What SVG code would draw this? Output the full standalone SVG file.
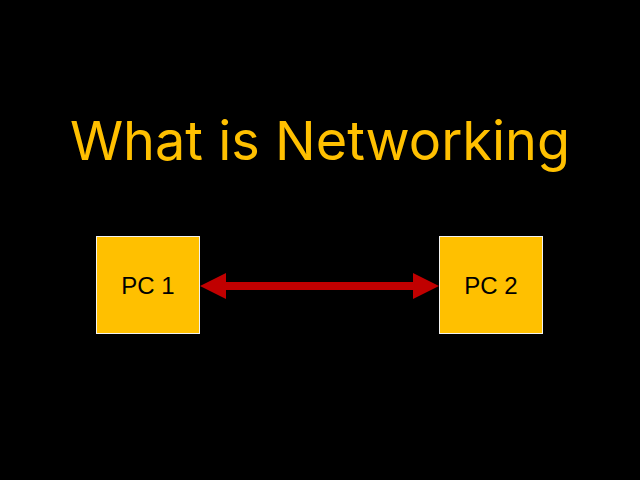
<svg xmlns="http://www.w3.org/2000/svg" width="640" height="480" viewBox="0 0 640 480">
<style>
.box{fill:#FFC000;stroke:#F2F2F2;stroke-width:1}
.lbl{font-family:"Liberation Sans",Arial,sans-serif;font-size:24px;fill:#000;text-anchor:middle}
</style>
<rect width="640" height="480" fill="#000"/>
<text x="320" y="160" font-family="Inter,'Liberation Sans',sans-serif" font-size="54" fill="#FFC000" text-anchor="middle">What is Networking</text>
<g id="connectors">
<path d="M200 286 L226 273 L226 282 L413 282 L413 273 L439 286 L413 299 L413 290 L226 290 L226 299 Z" fill="#C00000"/>
</g>
<g id="pc1"><rect class="box" x="96.5" y="236.5" width="103" height="97"/><text class="lbl" x="148" y="294">PC 1</text></g>
<g id="pc2"><rect class="box" x="439.5" y="236.5" width="103" height="97"/><text class="lbl" x="491" y="294">PC 2</text></g>
</svg>
